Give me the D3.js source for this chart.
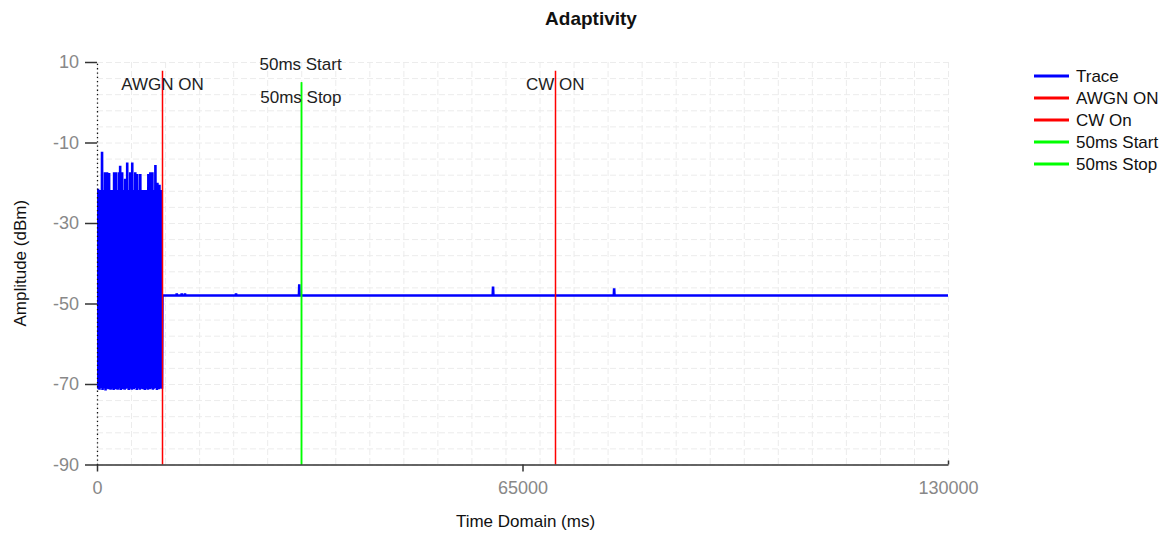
<!DOCTYPE html>
<html>
<head>
<meta charset="utf-8">
<script src="https://cdn.jsdelivr.net/npm/d3@7"></script>
<style>
  body { margin: 0; background: #fff; }
  svg text { font-family: "Liberation Sans", Arial, sans-serif; }
  .grid line { stroke: #ececec; stroke-dasharray: 6,3; }
  .grid path { display: none; }
</style>
</head>
<body>
<div id="chart-container"></div>
<script>
/* CONSTANTS AND GLOBALS */
const width = 1171,
  height = 536,
  margin = { top: 62, bottom: 71.5, left: 97, right: 223 };

/* DATA */
// x / y tick labels
const xTicks = [0, 65000, 130000];
const yTicks = [10, -10, -30, -50, -70, -90];

// noisy part of the trace (0 .. 10000 ms), one top and one bottom reading per pixel column
const noiseStart = 0, noiseEnd = 10000;
const noiseTop = [
  -21.5, -21.5, -21.8, -21.8, -21.8, -12.3, -21.8, -21.8, -17.4, -21.8,
  -17.4, -21.8, -17.6, -21.8, -21.8, -21.8, -21.8, -17.4, -21.8, -17.4,
  -21.8, -21.8, -17.4, -15.8, -21.8, -17.4, -21.8, -21.8, -19.0, -21.8,
  -15.0, -21.8, -21.8, -17.4, -21.8, -15.0, -21.8, -21.8, -17.4, -21.8,
  -17.8, -21.8, -21.8, -17.8, -21.8, -21.8, -21.8, -21.8, -21.8, -21.8,
  -21.8, -17.8, -21.8, -17.4, -21.8, -17.4, -21.8, -21.8, -15.6, -21.8,
  -20.0, -21.8, -20.5, -21.8, -21.8
];
const noiseBottom = [
  -71.2, -70.6, -71.4, -71.0, -70.4, -71.5, -71.1, -70.8, -71.6, -71.2,
  -70.5, -71.3, -71.0, -71.4, -70.2, -71.2, -71.5, -70.9, -71.3, -70.6,
  -71.4, -71.1, -70.3, -71.5, -71.0, -71.3, -70.7, -71.4, -71.2, -70.5,
  -71.1, -71.5, -70.0, -71.2, -71.4, -70.8, -71.3, -71.0, -70.4, -71.5,
  -71.1, -70.9, -71.4, -71.2, -69.9, -71.3, -71.0, -71.5, -70.6, -71.2,
  -71.4, -70.8, -71.3, -71.1, -70.5, -71.4, -71.2, -70.7, -71.0, -71.5,
  -70.9, -71.3, -71.1, -70.6, -71.2
];

// flat part of the trace after AWGN off
const tailTimes = [10000, 12150, 12180, 12210, 12910, 12940, 12970, 13410, 13440, 13470,
  21210, 21240, 21270, 30850, 30900, 30950, 60450, 60500, 60550, 78950, 79000, 79050, 130000];
const tailValues = [-48, -48, -47.5, -48, -48, -47.5, -48, -48, -47.5, -48,
  -48, -47.5, -48, -48, -45.2, -48, -48, -45.8, -48, -48, -46.2, -48, -48];

// vertical markers
const markerNames = ["AWGN ON", "CW On", "50ms Start", "50ms Stop"];
const markerLabels = ["AWGN ON", "CW ON", "50ms Start", "50ms Stop"];
const markerTimes = [10000, 70000, 31100, 31150];
const markerTops = [7.8, 7.8, 5.0, 5.0];
const markerLabelLevels = [4.5, 4.5, 9.5, 1.3];

const legendNames = ["Trace", "AWGN ON", "CW On", "50ms Start", "50ms Stop"];

const colorOf = {
  "Trace": "#0000ff",
  "AWGN ON": "#ff0000",
  "CW On": "#ff0000",
  "50ms Start": "#00ff00",
  "50ms Stop": "#00ff00"
};

/* BUILD TRACE */
const trace = [];
const step = (noiseEnd - noiseStart) / noiseTop.length;
noiseTop.forEach((v, i) => {
  trace.push({ t: noiseStart + i * step, v: v });
  trace.push({ t: noiseStart + (i + 0.5) * step, v: noiseBottom[i] });
});
tailTimes.forEach((t, i) => trace.push({ t: t, v: tailValues[i] }));

/* SVG */
const svg = d3.select("#chart-container")
  .append("svg")
  .attr("width", width)
  .attr("height", height);

// + SCALES
const xScale = d3.scaleLinear()
  .domain([0, 130000])
  .range([margin.left, width - margin.right]);

const yScale = d3.scaleLinear()
  .domain([-90, 10])
  .range([height - margin.bottom, margin.top]);

// + GRID
svg.append("g")
  .attr("class", "grid")
  .attr("transform", `translate(0, ${margin.top})`)
  .call(d3.axisTop(xScale)
    .tickValues(d3.range(0, 130001, 5200))
    .tickSize(-(yScale.range()[0] - margin.top))
    .tickFormat(""));

svg.append("g")
  .attr("class", "grid")
  .attr("transform", `translate(${margin.left}, 0)`)
  .call(d3.axisLeft(yScale)
    .tickValues(d3.range(-90, 10.1, 4))
    .tickSize(-(xScale.range()[1] - margin.left))
    .tickFormat(""));

// + TRACE
svg.append("clipPath")
  .attr("id", "plot-clip")
  .append("rect")
  .attr("x", margin.left)
  .attr("y", margin.top)
  .attr("width", xScale.range()[1] - margin.left)
  .attr("height", yScale.range()[0] - margin.top);

const lineGen = d3.line()
  .x(d => xScale(d.t))
  .y(d => yScale(d.v));

svg.append("path")
  .datum(trace)
  .attr("clip-path", "url(#plot-clip)")
  .attr("fill", "none")
  .attr("stroke", colorOf["Trace"])
  .attr("stroke-width", 2.6)
  .attr("d", lineGen);

// + MARKERS
const markers = markerNames.map((n, i) => ({
  name: n, label: markerLabels[i], t: markerTimes[i], top: markerTops[i], labelAt: markerLabelLevels[i]
}));

svg.selectAll(".marker")
  .data(markers)
  .join("line")
  .attr("class", "marker")
  .attr("x1", d => Math.round(xScale(d.t)) + 0.5)
  .attr("x2", d => Math.round(xScale(d.t)) + 0.5)
  .attr("y1", d => yScale(d.top))
  .attr("y2", yScale(-90))
  .attr("stroke", d => colorOf[d.name])
  .attr("stroke-width", 1.5);

svg.selectAll(".marker-label")
  .data(markers)
  .join("text")
  .attr("class", "marker-label")
  .attr("x", d => xScale(d.t))
  .attr("y", d => yScale(d.labelAt))
  .attr("dy", "0.35em")
  .attr("text-anchor", "middle")
  .attr("font-size", 17)
  .attr("fill", "#222")
  .text(d => d.label);

// + AXES
const yAxisGroup = svg.append("g")
  .attr("transform", `translate(${margin.left}, 0)`)
  .call(d3.axisLeft(yScale)
    .tickValues(yTicks)
    .tickSizeInner(12)
    .tickSizeOuter(0)
    .tickPadding(6)
    .tickFormat(d => String(d)));

yAxisGroup.select(".domain")
  .attr("stroke", "#111")
  .attr("stroke-width", 1.3)
  .attr("stroke-dasharray", "1.3,3");
yAxisGroup.selectAll(".tick line").attr("stroke", "#333").attr("stroke-width", 1.5);
yAxisGroup.selectAll(".tick text")
  .attr("font-size", 18)
  .attr("fill", "#888");

const xAxisGroup = svg.append("g")
  .attr("transform", `translate(0, ${yScale(-90)})`)
  .call(d3.axisBottom(xScale)
    .tickValues(xTicks)
    .tickSizeInner(7)
    .tickSizeOuter(0)
    .tickPadding(10)
    .tickFormat(d => String(d)));

xAxisGroup.select(".domain").attr("stroke", "#333").attr("stroke-width", 1.5);
xAxisGroup.selectAll(".tick line")
  .attr("stroke", "#333")
  .attr("stroke-width", 1.5)
  .attr("y2", d => d === 130000 ? -4 : 7);
xAxisGroup.selectAll(".tick text")
  .attr("font-size", 18)
  .attr("fill", "#888");

// + TITLES
svg.append("text")
  .attr("x", 591)
  .attr("y", 25)
  .attr("text-anchor", "middle")
  .attr("font-size", 19)
  .attr("font-weight", "bold")
  .attr("fill", "#111")
  .text("Adaptivity");

svg.append("text")
  .attr("x", (xScale.range()[0] + xScale.range()[1]) / 2 + 3)
  .attr("y", 527)
  .attr("text-anchor", "middle")
  .attr("font-size", 17)
  .attr("fill", "#111")
  .text("Time Domain (ms)");

svg.append("text")
  .attr("transform", `translate(26, ${(yScale.range()[0] + yScale.range()[1]) / 2}) rotate(-90)`)
  .attr("text-anchor", "middle")
  .attr("font-size", 17)
  .attr("fill", "#111")
  .text("Amplitude (dBm)");

// + LEGEND
const legend = svg.append("g")
  .attr("transform", "translate(1034, 76)");

const legendRows = legend.selectAll("g")
  .data(legendNames)
  .join("g")
  .attr("transform", (d, i) => `translate(0, ${i * 22})`);

legendRows.append("line")
  .attr("x1", 0)
  .attr("x2", 35)
  .attr("stroke", d => colorOf[d])
  .attr("stroke-width", 3);

legendRows.append("text")
  .attr("x", 42)
  .attr("dy", "0.35em")
  .attr("font-size", 17)
  .attr("fill", "#111")
  .text(d => d);
</script>
</body>
</html>
